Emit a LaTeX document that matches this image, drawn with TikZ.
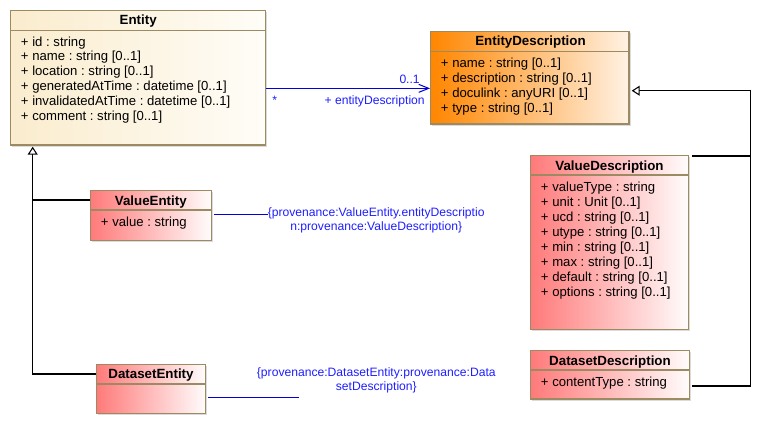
\documentclass[tikz,border=0pt]{standalone}
\usepackage{fontspec}
\setmainfont{Liberation Sans}
\usetikzlibrary{calc,fit,arrows.meta,shadows}
\frenchspacing

\definecolor{umlborder}{RGB}{156,138,98}
\definecolor{noteblue}{RGB}{30,30,255}
\definecolor{linkblue}{RGB}{0,0,215}
\definecolor{creamL}{RGB}{250,236,205}
\definecolor{creamR}{RGB}{255,253,248}
\definecolor{orangeL}{RGB}{255,134,0}
\definecolor{orangeR}{RGB}{255,242,228}
\definecolor{redL}{RGB}{255,122,122}
\definecolor{redR}{RGB}{255,252,252}

\tikzset{
  classbox/.style={draw=umlborder, line width=1pt, inner sep=0pt,
    drop shadow={shadow xshift=1.2pt, shadow yshift=-1.2pt, fill=black!40, opacity=0.35}},
  entityfill/.style={left color=creamL, right color=creamR},
  descfill/.style={left color=orangeL, right color=orangeR},
  redfill/.style={left color=redL, right color=redR},
  sepline/.style={draw=umlborder, line width=0.8pt},
  classname/.style={font=\bfseries, inner sep=0pt, anchor=base},
  attr/.style={inner sep=0pt, anchor=base west},
  note/.style={text=noteblue, inner sep=0pt, font=\fontsize{9.1}{10.1}\selectfont},
  gen/.style={draw=black, line width=0.8pt},
  assoc/.style={draw=linkblue, line width=0.75pt},
}

\begin{document}
\begin{tikzpicture}[x=0.75pt, y=-0.75pt, font=\fontsize{9.85}{11.25}\selectfont]
  \useasboundingbox (0,0) rectangle (771,425);

  % Entity
  \node[classbox, entityfill, fit={(10.7,10.7) (265.7,145)}] (entity) {};
  \draw[sepline] (entity.west |- 0,30.7) -- (entity.east |- 0,30.7);
  \node[classname] (entityT) at (138.2,24) {Entity};
  \foreach \t [count=\i from 0] in {{+ id : string}, {+ name : string [0..1]},
      {+ location : string [0..1]}, {+ generatedAtTime : datetime [0..1]},
      {+ invalidatedAtTime : datetime [0..1]}, {+ comment : string [0..1]}}
    \node[attr] (entityA\i) at (20.7,46+14.9*\i) {\t};

  % EntityDescription
  \node[classbox, descfill, fit={(430.7,31.7) (629,124)}] (entDesc) {};
  \draw[sepline] (entDesc.west |- 0,51.7) -- (entDesc.east |- 0,51.7);
  \node[classname] (entDescT) at (530.5,45.5) {EntityDescription};
  \foreach \t [count=\i from 0] in {{+ name : string [0..1]}, {+ description : string [0..1]},
      {+ doculink : anyURI [0..1]}, {+ type : string [0..1]}}
    \node[attr] (entDescA\i) at (440.7,67+15*\i) {\t};

  % ValueEntity
  \node[classbox, redfill, fit={(90.3,190.7) (211.3,240.3)}] (valEnt) {};
  \draw[sepline] (valEnt.west |- 0,210) -- (valEnt.east |- 0,210);
  \node[classname] (valEntT) at (150.8,205) {ValueEntity};
  \node[attr] (valEntA0) at (100.7,226.5) {+ value : string};

  % DatasetEntity
  \node[classbox, redfill, fit={(96.3,364.3) (205.7,413.3)}] (dsEnt) {};
  \draw[sepline] (dsEnt.west |- 0,384) -- (dsEnt.east |- 0,384);
  \node[classname] (dsEntT) at (151,378.5) {DatasetEntity};

  % ValueDescription
  \node[classbox, redfill, fit={(530.7,155.3) (688.3,329.3)}] (valDesc) {};
  \draw[sepline] (valDesc.west |- 0,175) -- (valDesc.east |- 0,175);
  \node[classname] (valDescT) at (609.5,170) {ValueDescription};
  \foreach \t [count=\i from 0] in {{+ valueType : string}, {+ unit : Unit [0..1]},
      {+ ucd : string [0..1]}, {+ utype : string [0..1]}, {+ min : string [0..1]},
      {+ max : string [0..1]}, {+ default : string [0..1]}, {+ options : string [0..1]}}
    \node[attr] (valDescA\i) at (540.7,191.5+15*\i) {\t};

  % DatasetDescription
  \node[classbox, redfill, fit={(530.7,350.7) (689.3,399)}] (dsDesc) {};
  \draw[sepline] (dsDesc.west |- 0,370) -- (dsDesc.east |- 0,370);
  \node[classname] (dsDescT) at (610,365) {DatasetDescription};
  \node[attr] (dsDescA0) at (540.7,386.5) {+ contentType : string};

  % association Entity -> EntityDescription
  \draw[assoc, -{Straight Barb[length=7.5pt, width=6pt]}]
    ($(entity.east)+(0,10.5)$) -- ($(entDesc.west)+(0,10.5)$);
  \node[note, anchor=base east] (multEnd) at (420,83) {0..1};
  \node[note, anchor=base west] (multStart) at (272,104) {*};
  \node[note, anchor=base east] (roleEnd) at (425,104) {+ entityDescription};

  % generalisations
  \coordinate (genL) at (32.7,146.7);
  \coordinate (genR) at (631.7,90.7);
  \coordinate (busR) at (750.7,90.7);
  \draw[gen, -{Triangle[length=6pt, width=7.5pt, fill=white]}]
    (dsEnt.west |- 0,374) -| (genL);
  \draw[gen] (valEnt.west |- 0,200) -- (genL |- 0,200);
  \draw[gen, -{Triangle[length=6pt, width=7.5pt, fill=white]}]
    ($(dsDesc.east |- 0,386)+(2,0)$) -| (busR) -- (genR);
  \draw[gen] ($(valDesc.east |- 0,156)+(3,0)$) -- (busR |- 0,156);

  % constraint notes
  \node[note, align=center] (veNote) at (376.2,220.4)
    {\{provenance:ValueEntity.entityDescriptio\\n:provenance:ValueDescription\}};
  \draw[assoc] ($(valEnt.east |- 0,214)+(2,0)$) -- (veNote.west |- 0,214);
  \node[note, align=center] (dsNote) at (376.3,380.4)
    {\{provenance:DatasetEntity:provenance:Data\\setDescription\}};
  \coordinate (dsLineEnd) at (299,397.3);
  \draw[assoc] ($(dsEnt.east |- 0,397.3)+(2,0)$) -- (dsLineEnd);
\end{tikzpicture}
\end{document}
